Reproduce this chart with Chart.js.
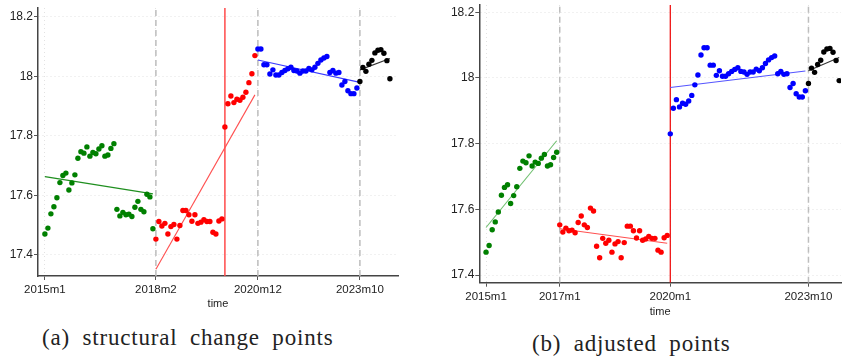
<!DOCTYPE html>
<html>
<head>
<meta charset="utf-8">
<script src="https://cdn.jsdelivr.net/npm/chart.js@4.4.0/dist/chart.umd.min.js"></script>
<style>
  html, body { margin: 0; padding: 0; background: #fff; }
  body { width: 845px; height: 358px; position: relative; overflow: hidden; }
  .panel { position: absolute; top: 0; height: 320px; }
  .caption {
    position: absolute;
    font-family: "Liberation Serif", "Times New Roman", serif;
    font-size: 23px;
    line-height: 23px;
    letter-spacing: 0.8px;
    word-spacing: 6px;
    color: #222;
    white-space: nowrap;
  }
</style>
</head>
<body>
<div class="panel" style="left:0;width:430px"><canvas id="chartA"></canvas></div>
<div class="panel" style="left:440px;width:405px"><canvas id="chartB"></canvas></div>
<div class="caption" style="left:42px;top:326px">(a) structural change points</div>
<div class="caption" style="left:532px;top:332px">(b) adjusted points</div>
<script>
// monthly series, index 0 = 2015m1
const values = [
  17.47, 17.49, 17.538, 17.562, 17.592, 17.643, 17.667, 17.675, 17.618, 17.642, 17.669, 17.725,
  17.747, 17.742, 17.763, 17.732, 17.744, 17.74, 17.756, 17.767, 17.732, 17.736, 17.758, 17.774,
  17.553, 17.531, 17.543, 17.535, 17.537, 17.529, 17.56, 17.58, 17.553, 17.545, 17.604, 17.595,
  17.488, 17.453, 17.512, 17.497, 17.506, 17.47, 17.495, 17.502, 17.453, 17.499, 17.549, 17.549,
  17.535, 17.513, 17.535, 17.506, 17.51, 17.518, 17.512, 17.512, 17.476, 17.47, 17.514, 17.521,
  17.83, 17.908, 17.934, 17.912, 17.923, 17.92, 17.93, 17.947, 17.979, 18.009, 18.07, 18.092,
  18.092, 18.039, 18.039, 18.008, 18.022, 18.005, 18.005, 18.013, 18.02, 18.026, 18.031, 18.02,
  18.018, 18.011, 18.018, 18.018, 18.027, 18.022, 18.031, 18.044, 18.055, 18.062, 18.067, 18.013,
  18.02, 18.011, 18.013, 17.971, 17.983, 17.952, 17.942, 17.942, 17.961, 17.983, 18.03, 18.017,
  18.041, 18.054, 18.079, 18.088, 18.09, 18.078, 18.053, 17.992
];

const yTicks = [17.4, 17.6, 17.8, 18, 18.2];
const yTickLabels = ["17.4", "17.6", "17.8", "18", "18.2"];
const segColors = ["#008000", "#ff0000", "#0000ff", "#000000"];

// panel (a): structural change points
const aTickMonths = [0, 37, 71, 105];
const aTickLabels = ["2015m1", "2018m2", "2020m12", "2023m10"];
const aSegments = [[0, 36], [37, 70], [71, 104], [105, 115]];
const aFitMonths = [[0, 36], [37, 70], [71, 105], [105, 115]];
const aFitValues = [[17.663, 17.605], [17.352, 17.938], [18.055, 17.98], [18.022, 18.06]];
const aDashed = [37, 71, 105];
const aRedLine = 60;

// panel (b): adjusted points
const bTickMonths = [0, 24, 60, 105];
const bTickLabels = ["2015m1", "2017m1", "2020m1", "2023m10"];
const bSegments = [[0, 23], [24, 59], [60, 104], [105, 115]];
const bFitMonths = [[0, 23], [24, 59], [60, 104], [105, 115]];
const bFitValues = [[17.545, 17.809], [17.541, 17.497], [17.971, 18.021], [18.022, 18.062]];
const bDashed = [24, 105];
const bRedLine = 60;

function makeChart(id, p) {
  const datasets = [];

  p.segments.forEach((seg, i) => {
    const pts = [];
    for (let m = seg[0]; m <= seg[1]; m++) pts.push({x: m, y: values[m]});
    datasets.push({
      data: pts,
      backgroundColor: segColors[i],
      pointRadius: 2.7,
      pointBorderWidth: 0,
      order: 0,
    });
  });

  p.fitMonths.forEach((fm, i) => {
    datasets.push({
      data: [{x: fm[0], y: p.fitValues[i][0]}, {x: fm[1], y: p.fitValues[i][1]}],
      showLine: true,
      borderColor: p.fitColors[i],
      borderWidth: 1.1,
      pointRadius: 0,
      order: 1,
    });
  });

  p.dashed.forEach(m => {
    datasets.push({
      data: [{x: m, y: p.yMin}, {x: m, y: p.yMax}],
      showLine: true,
      borderColor: "#bdbdbd",
      borderWidth: 1.5,
      borderDash: [6, 4],
      pointRadius: 0,
      order: 2,
    });
  });

  datasets.push({
    data: [{x: p.redLine, y: p.yMin}, {x: p.redLine, y: p.yMax}],
    showLine: true,
    borderColor: p.redColor,
    borderWidth: p.redWidth,
    pointRadius: 0,
    order: 2,
  });

  const sans = "'Liberation Sans', Arial, sans-serif";

  return new Chart(document.getElementById(id), {
    type: "scatter",
    data: {datasets},
    options: {
      responsive: true,
      maintainAspectRatio: false,
      animation: false,
      layout: {padding: {top: p.top, right: p.right, left: 0, bottom: 0}},
      plugins: {legend: {display: false}, tooltip: {enabled: false}},
      scales: {
        x: {
          type: "linear",
          min: p.xMin,
          max: p.xMax,
          afterBuildTicks: s => { s.ticks = p.tickMonths.map(v => ({value: v})); },
          afterFit: s => { s.height = p.xHeight; s.paddingLeft = 0; s.paddingRight = 0; },
          ticks: {
            autoSkip: false,
            maxRotation: 0,
            padding: 3,
            color: "#222",
            font: {family: sans, size: 11.5},
            callback: v => p.tickLabels[p.tickMonths.indexOf(v)],
          },
          grid: {color: "#e2e2e2", tickColor: "#555", tickLength: 4, lineWidth: 1},
          border: {color: "#444", width: 1.5, dash: [1, 3]},
          title: {
            display: true,
            text: "time",
            color: "#222",
            font: {family: sans, size: 11},
            padding: {top: 0, bottom: p.titlePad},
          },
        },
        y: {
          min: p.yMin,
          max: p.yMax,
          afterBuildTicks: s => { s.ticks = yTicks.map(v => ({value: v})); },
          afterFit: s => { s.width = p.yWidth; s.paddingTop = 0; s.paddingBottom = 0; },
          ticks: {
            padding: 1,
            color: "#222",
            font: {family: sans, size: 12},
            callback: v => yTickLabels[yTicks.indexOf(v)],
          },
          grid: {color: "#e2e2e2", tickColor: "#555", tickLength: 4, lineWidth: 1},
          border: {color: "#444", width: 1.5, dash: [1, 3]},
        },
      },
    },
  });
}

makeChart("chartA", {
  segments: aSegments,
  fitMonths: aFitMonths,
  fitValues: aFitValues,
  fitColors: ["#1f8f1f", "#ff5050", "#3a3aff", "#333333"],
  dashed: aDashed,
  redLine: aRedLine,
  redColor: "#ff4a4a",
  redWidth: 1.5,
  tickMonths: aTickMonths,
  tickLabels: aTickLabels,
  xMin: -2.3, xMax: 117.7,
  yMin: 17.329, yMax: 18.23,
  top: 8, right: 32,
  xHeight: 44, yWidth: 38,
  titlePad: 9.4,
});

makeChart("chartB", {
  segments: bSegments,
  fitMonths: bFitMonths,
  fitValues: bFitValues,
  fitColors: ["#6fbf6f", "#ff5050", "#5555ff", "#333333"],
  dashed: bDashed,
  redLine: bRedLine,
  redColor: "#ee0000",
  redWidth: 1.2,
  tickMonths: bTickMonths,
  tickLabels: bTickLabels,
  xMin: -2.2, xMax: 115.6,
  yMin: 17.377, yMax: 18.222,
  top: 5, right: 0,
  xHeight: 37.3, yWidth: 39.3,
  titlePad: 1.4,
});
</script>
</body>
</html>
